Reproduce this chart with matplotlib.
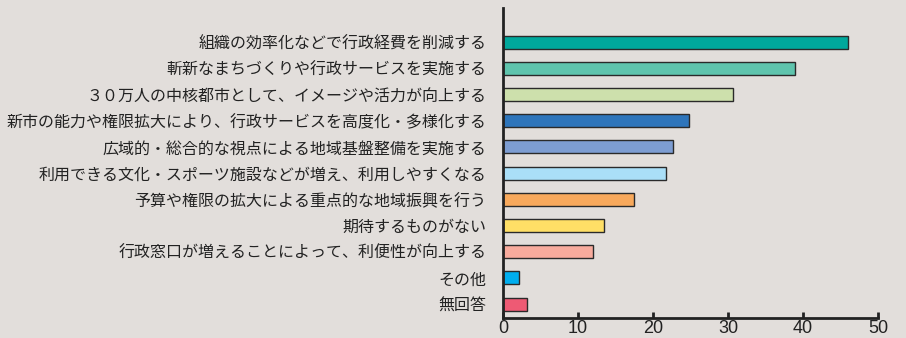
import matplotlib.pyplot as plt

plt.rcParams['font.family'] = ['Noto Sans CJK JP', 'DejaVu Sans']

labels = [
    '組織の効率化などで行政経費を削減する',
    '斬新なまちづくりや行政サービスを実施する',
    '３０万人の中核都市として、イメージや活力が向上する',
    '新市の能力や権限拡大により、行政サービスを高度化・多様化する',
    '広域的・総合的な視点による地域基盤整備を実施する',
    '利用できる文化・スポーツ施設などが増え、利用しやすくなる',
    '予算や権限の拡大による重点的な地域振興を行う',
    '期待するものがない',
    '行政窓口が増えることによって、利便性が向上する',
    'その他',
    '無回答',
]
values = [46.0, 38.9, 30.6, 24.8, 22.7, 21.7, 17.4, 13.5, 12.0, 2.1, 3.2]
colors = ['#00a89c', '#5fc4ad', '#cde0ac', '#2e75bb', '#7d9dd2', '#aadff8',
          '#f8a95c', '#ffdf66', '#f8ab9d', '#00aeef', '#ee5a74']
ticks = [0, 10, 20, 30, 40, 50]

bg = '#e2dedb'
fig = plt.figure(figsize=(9.06, 3.38), dpi=100, facecolor=bg)
ax = fig.add_axes([503 / 906, 20 / 338, 375 / 906, 310 / 338])
ax.set_facecolor(bg)

pos = list(range(len(labels)))
ax.barh(pos, values, height=0.5, color=colors, edgecolor='#2a2a2a', linewidth=1.0)

ax.set_xlim(0, 50)
ax.set_ylim(10.53, -1.3)
ax.set_xticks(ticks)
ax.set_xticklabels([str(t) for t in ticks], fontsize=13, color='#222222',
                   family=['Liberation Sans', 'DejaVu Sans'])
ax.set_yticks(pos)
ax.set_yticklabels(labels, fontsize=11.5, color='#222222')

ax.tick_params(axis='x', direction='in', length=4, width=2, color='#222222', pad=1.5)
ax.tick_params(axis='y', length=0, pad=12)

for s in ['top', 'right']:
    ax.spines[s].set_visible(False)
for s in ['left', 'bottom']:
    ax.spines[s].set_linewidth(2)
    ax.spines[s].set_color('#222222')

fig.savefig('out.png', dpi=100, facecolor=bg)
